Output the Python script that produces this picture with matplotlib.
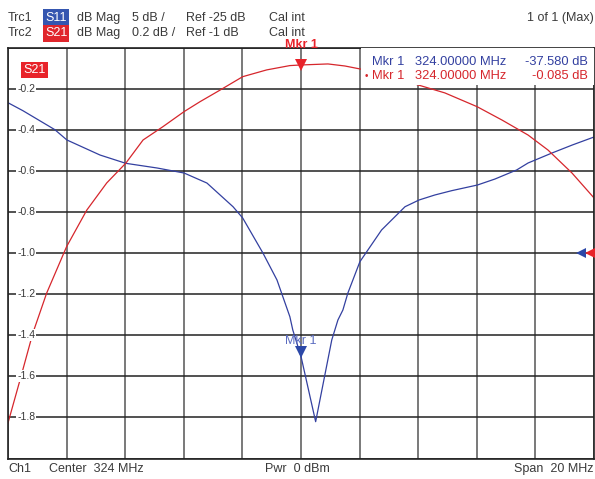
import matplotlib
matplotlib.use("Agg")
import matplotlib.pyplot as plt
from matplotlib.patches import Rectangle
import numpy as np

plt.rcParams["font.family"] = ["Liberation Sans", "DejaVu Sans"]

# ---------------------------------------------------------------------------
# Trace data (frequency in MHz, level in dB)
# ---------------------------------------------------------------------------
s21_freq = [314.00, 314.41, 314.85, 315.32, 316.00, 316.69, 317.37, 318.02,
            318.61, 319.29, 320.01, 320.55, 321.24, 322.01, 322.83, 323.62,
            324.00, 324.92, 325.50, 326.07, 327.04, 327.99, 328.91, 330.01,
            330.86, 331.75, 332.43, 333.25, 334.00]
s21_db = [-1.827, -1.618, -1.389, -1.195, -0.969, -0.791, -0.659, -0.563,
          -0.450, -0.385, -0.312, -0.264, -0.207, -0.142, -0.109, -0.088,
          -0.085, -0.080, -0.090, -0.106, -0.144, -0.182, -0.221, -0.288,
          -0.353, -0.426, -0.499, -0.611, -0.732]

s11_freq = [314.00, 314.51, 315.60, 316.01, 317.14, 318.02, 319.09, 320.01,
            320.79, 321.68, 322.01, 322.70, 323.18, 323.62, 323.72, 324.00,
            324.50, 325.05, 325.26, 325.43, 325.60, 326.01, 326.75, 327.55,
            328.03, 328.57, 329.14, 330.02, 330.62, 331.36, 331.75, 332.57,
            333.26, 334.00]
s11_db = [-6.72, -7.69, -10.0, -11.25, -13.08, -14.09, -14.66, -15.27,
          -16.49, -19.37, -20.74, -25.00, -28.28, -32.75, -34.37, -37.58,
          -45.52, -35.58, -33.15, -31.93, -29.87, -26.06, -22.20, -19.37,
          -18.55, -17.94, -17.42, -16.73, -16.00, -14.90, -14.05, -12.83,
          -11.86, -10.89]

center_mhz = 324.0
span_mhz = 20.0
s21_scale, s21_ref = 0.2, -1.0     # dB/div, ref
s11_scale, s11_ref = 5.0, -25.0
mkr_freq = 324.0
mkr_s11 = -37.580
mkr_s21 = -0.085
y_ticks = [-0.2, -0.4, -0.6, -0.8, -1.0, -1.2, -1.4, -1.6, -1.8]

BLUE = "#3340a0"
RED = "#d6262c"
TXT = "#3a3a3a"

W, H = 595, 479


def fx(px):
    return px / W


def fy(py):
    return 1 - py / H


def s11_to_grid(v):
    """S11 in its own scale mapped onto the S21 grid units."""
    return s21_ref + (np.asarray(v) - s11_ref) / s11_scale * s21_scale


fig = plt.figure(figsize=(W / 100, H / 100), dpi=100)
ax = fig.add_axes([fx(8), fy(458.5), fx(594) - fx(8), fy(47.5) - fy(458.5)])

f0 = center_mhz - span_mhz / 2
f1 = center_mhz + span_mhz / 2
ax.set_xlim(f0, f1)
ax.set_ylim(s21_ref - 5 * s21_scale, s21_ref + 5 * s21_scale)
ax.set_xticks(np.arange(f0, f1 + 0.01, span_mhz / 10))
ax.set_yticks(np.arange(s21_ref - 5 * s21_scale, s21_ref + 5 * s21_scale + 0.01, s21_scale))
ax.tick_params(length=0, labelbottom=False, labelleft=False)
ax.xaxis.grid(True, color="#555555", lw=1.1)
ax.yaxis.grid(True, color="#222222", lw=1.1)
ax.set_axisbelow(True)
for sp in ax.spines.values():
    sp.set_color("#222222")
    sp.set_linewidth(1.2)

# traces
ax.plot(s11_freq, s11_to_grid(s11_db), color=BLUE, lw=0.9, zorder=2)
ax.plot(s21_freq, s21_db, color=RED, lw=0.9, zorder=2)

# y labels inside the grid
for t in y_ticks:
    ax.text(f0 + 0.31, t, f"{t:.1f}", fontsize=7.5, color=TXT, ha="left", va="center",
            bbox=dict(facecolor="white", edgecolor="none", pad=0.6), zorder=4)

# marker info box
ax.add_patch(Rectangle((326.04, s21_ref + 5 * s21_scale - 0.183), f1 - 326.04, 0.183,
                       facecolor="white", edgecolor="none", zorder=3))
ax.text(0.621, 0.965, "Mkr 1", transform=ax.transAxes, fontsize=9.3, color=BLUE, va="center", zorder=5)
ax.text(0.694, 0.965, f"{mkr_freq:.5f} MHz", transform=ax.transAxes, fontsize=9.3, color=BLUE,
        va="center", zorder=5)
ax.text(0.990, 0.965, f"{mkr_s11:.3f} dB", transform=ax.transAxes, fontsize=9.3, color=BLUE,
        va="center", ha="right", zorder=5)
ax.text(0.608, 0.931, "•", transform=ax.transAxes, fontsize=7, color=RED, va="center", zorder=5)
ax.text(0.621, 0.931, "Mkr 1", transform=ax.transAxes, fontsize=9.3, color=RED, va="center", zorder=5)
ax.text(0.694, 0.931, f"{mkr_freq:.5f} MHz", transform=ax.transAxes, fontsize=9.3, color=RED,
        va="center", zorder=5)
ax.text(0.990, 0.931, f"{mkr_s21:.3f} dB", transform=ax.transAxes, fontsize=9.3, color=RED,
        va="center", ha="right", zorder=5)

# trace label inside grid
ax.text(0.026, 0.945, "S21", transform=ax.transAxes, fontsize=9, color="white", va="center",
        bbox=dict(facecolor="#e8232a", edgecolor="none", pad=1.4), zorder=5)

# markers
ax.plot([mkr_freq], [mkr_s21], marker="v", ms=8, color="#e8232a", clip_on=False, zorder=6,
        markeredgewidth=0)
ax.text(mkr_freq, 0.0 + 0.012, "Mkr 1", fontsize=9, color="#e8232a", fontweight="bold",
        ha="center", va="center", zorder=6, clip_on=False)
mk_y = float(s11_to_grid(mkr_s11))
ax.plot([mkr_freq], [mk_y + 0.022], marker="v", ms=8, color="#2c48a8", zorder=6, markeredgewidth=0)
ax.text(mkr_freq, mk_y + 0.075, "Mkr 1", fontsize=9, color="#5a6bc0", ha="center", va="center",
        zorder=6)

# reference level arrows on the right edge
ax.plot([f1 - 0.45], [s21_ref], marker="<", ms=7, color="#2c48a8", markeredgewidth=0,
        clip_on=False, zorder=6)
ax.plot([f1 - 0.12], [s21_ref], marker="<", ms=7, color="#e8232a", markeredgewidth=0,
        clip_on=False, zorder=6)

# header
fig.patches.append(Rectangle((fx(43), fy(25)), fx(69) - fx(43), fy(9) - fy(25),
                             transform=fig.transFigure, facecolor="#3556b0", edgecolor="none"))
fig.patches.append(Rectangle((fx(43), fy(42)), fx(69) - fx(43), fy(25) - fy(42),
                             transform=fig.transFigure, facecolor="#e0262c", edgecolor="none"))
rows = [
    (18, "Trc1", "S11", "dB Mag", f"{s11_scale:g} dB /", f"Ref {s11_ref:g} dB"),
    (33, "Trc2", "S21", "dB Mag", f"{s21_scale:g} dB /", f"Ref {s21_ref:g} dB"),
]
for py, trc, par, fmt, scl, ref in rows:
    fig.text(fx(8), fy(py), trc, fontsize=9, color=TXT, va="center")
    fig.text(fx(45), fy(py), par, fontsize=9, color="white", va="center")
    fig.text(fx(77), fy(py), fmt, fontsize=9, color=TXT, va="center")
    fig.text(fx(132), fy(py), scl, fontsize=9, color=TXT, va="center")
    fig.text(fx(186), fy(py), ref, fontsize=9, color=TXT, va="center")
    fig.text(fx(269), fy(py), "Cal int", fontsize=9, color=TXT, va="center")
fig.text(fx(594), fy(18), "1 of 1 (Max)", fontsize=9, color=TXT, va="center", ha="right")

# footer
fig.text(fx(8), fy(469), "Ch1", fontsize=9, color=TXT, va="center")
fig.text(fx(49), fy(469), f"Center  {center_mhz:g} MHz", fontsize=9, color=TXT, va="center")
fig.text(fx(265), fy(469), "Pwr  0 dBm", fontsize=9, color=TXT, va="center")
fig.text(fx(594), fy(469), f"Span  {span_mhz:g} MHz", fontsize=9, color=TXT, va="center", ha="right")

fig.savefig("out.png", dpi=100)
